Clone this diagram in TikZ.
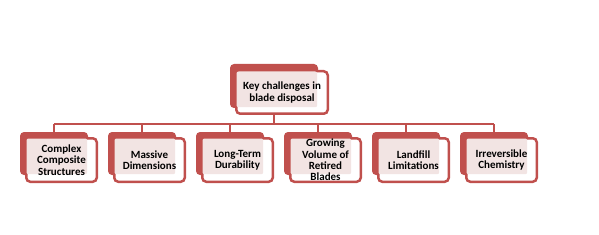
\documentclass[tikz,border=0pt]{standalone}
\usepackage{fontspec}
\setmainfont{Carlito}
\usetikzlibrary{calc}
\definecolor{boxred}{HTML}{C0504D}
\definecolor{boxpink}{HTML}{F2E4E3}

\begin{document}
\begin{tikzpicture}[x=1pt, y=-1pt,
    back/.style={fill=boxred, rounded corners=4pt, inner sep=0pt, minimum width=68pt, minimum height=43pt},
    front/.style={draw=boxred, line width=2.5pt, fill=white, rounded corners=4pt, inner sep=0pt, minimum width=70.5pt, minimum height=43.5pt},
    boxtext/.style={align=center, font=\bfseries\fontsize{11}{11.4}\selectfont, inner sep=0pt},
    link/.style={draw=boxred, line width=2.2pt}]
    \useasboundingbox (0,0) rectangle (599,235);

    % back plates
    \node[back, minimum width=88pt, minimum height=44pt] (key) at (274,86) {};
    \foreach \i in {1,...,6}
        \node[back] (c\i) at ({54+88*(\i-1)},153.5) {};

    % connectors
    \coordinate (bus) at (0,124);
    \draw[link] (key.south) -- (key.south |- bus);
    \draw[link] (c1.north |- bus) -- (c6.north |- bus);
    \foreach \i in {1,...,6}
        \draw[link] (c\i.north |- bus) -- (c\i.north);

    % top frame
    \node[front, minimum width=91.5pt, minimum height=42.5pt] (kf) at ($(key)+(8,6.5)$) {};
    \fill[boxpink, rounded corners=2pt] ($(kf.north west)+(1.5,1.5)$) rectangle ($(key.south east)+(-1,-1)$);
    \node[boxtext] (kt) at (kf) {Key challenges in\\blade disposal};

    % child frames
    \foreach \i/\txt in {1/{Complex\\Composite\\Structures}, 2/{Massive\\Dimensions},
                          3/{Long-Term\\Durability}, 4/{Growing\\Volume of\\Retired\\Blades},
                          5/{Landfill\\Limitations}, 6/{Irreversible\\Chemistry}} {
        \node[front] (f\i) at ($(c\i)+(7.5,6.5)$) {};
        \fill[boxpink, rounded corners=2pt] ($(f\i.north west)+(1.5,1.5)$) rectangle ($(c\i.south east)+(-1,-1)$);
        \node[boxtext] (t\i) at (f\i) {\txt};
    }
\end{tikzpicture}
\end{document}
